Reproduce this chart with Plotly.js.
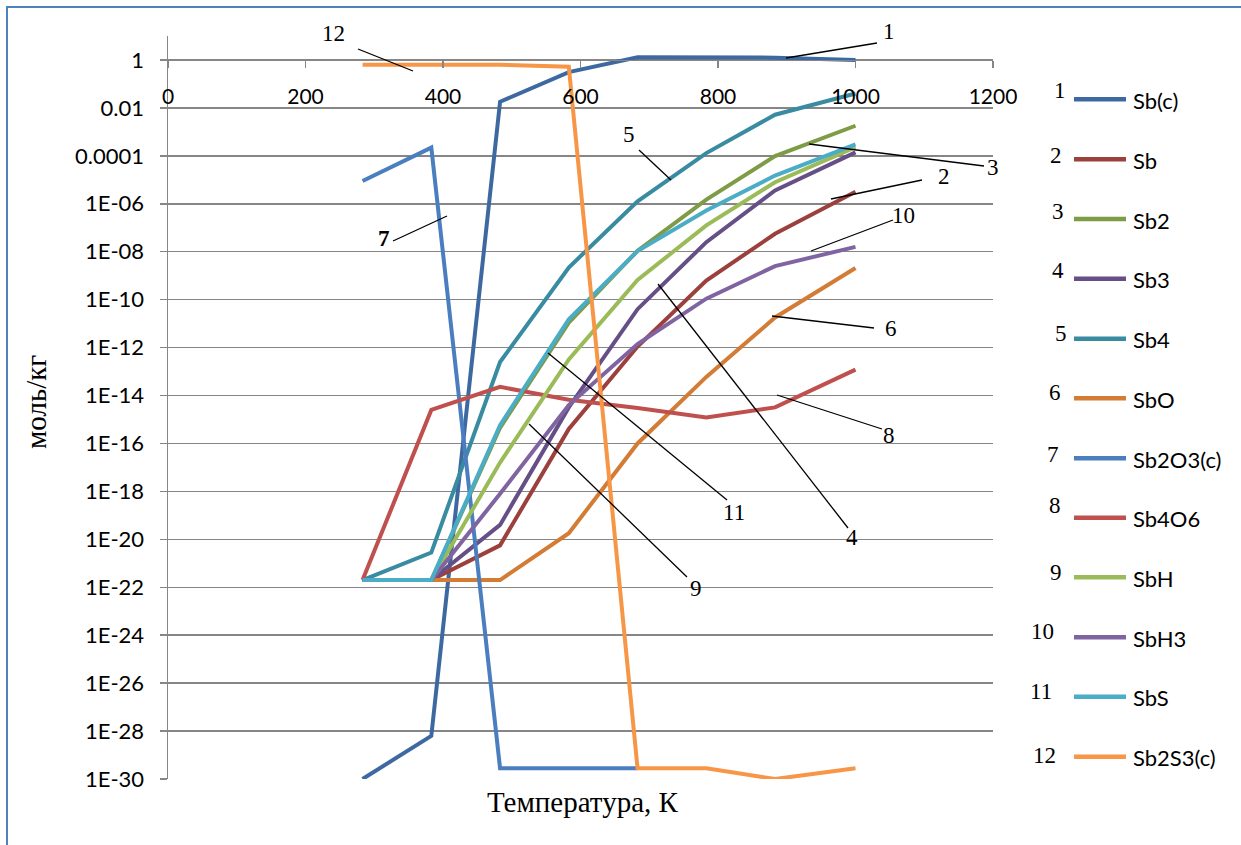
<!DOCTYPE html>
<html>
<head>
<meta charset="utf-8">
<script src="https://cdn.plot.ly/plotly-3.0.1.min.js"></script>
<style>html,body{margin:0;padding:0;background:#fff;}#chart{width:1241px;height:845px;}</style>
</head>
<body>
<div id="chart"></div>
<script>
// Temperatures, K
const temps = [283, 383, 483, 583, 683, 783, 883, 1000];
// Series values, mol/kg
const sbC    = [1e-30, 6.3e-29, 0.018, 0.31, 1.3, 1.3, 1.25, 1.0];
const sb     = [2e-22, 2e-22, 5.6e-21, 4e-16, 1.1e-12, 6.3e-10, 5.6e-8, 3.2e-6];
const sb2    = [2e-22, 2e-22, 4.5e-16, 1.1e-11, 1.1e-8, 1.5e-6, 9.8e-5, 1.8e-3];
const sb3    = [2e-22, 2e-22, 4e-20, 3.2e-15, 4e-11, 2.5e-8, 3.6e-6, 1.4e-4];
const sb4    = [2e-22, 2.8e-21, 2.5e-13, 2.2e-9, 1.26e-6, 1.3e-4, 5.2e-3, 0.04];
const sbO    = [2e-22, 2e-22, 2e-22, 1.8e-20, 1e-16, 6e-14, 1.8e-11, 2.1e-9];
const sb2O3c = [8.9e-6, 2.2e-4, 2.8e-30, 2.8e-30, 2.8e-30, null, null, null];
const sb4O6  = [2e-22, 2.5e-15, 2.3e-14, 6.6e-15, 3e-15, 1.2e-15, 3.2e-15, 1.2e-13];
const sbH    = [2e-22, 2e-22, 1.6e-17, 3.2e-13, 6.6e-10, 1.26e-7, 7.9e-6, 2.3e-4];
const sbH3   = [2e-22, 2e-22, 7.9e-19, 4e-15, 1.4e-12, 1.1e-10, 2.5e-9, 1.6e-8];
const sbS    = [2e-22, 2e-22, 5.8e-16, 1.5e-11, 1.07e-8, 5.2e-7, 1.5e-5, 3e-4];
const sb2S3c = [0.63, 0.63, 0.63, 0.52, 2.8e-30, 2.8e-30, 1e-30, 2.8e-30];

const seriesNames = ['Sb(c)', 'Sb', 'Sb2', 'Sb3', 'Sb4', 'SbO', 'Sb2O3(c)', 'Sb4O6', 'SbH', 'SbH3', 'SbS', 'Sb2S3(c)'];
const seriesValues = [sbC, sb, sb2, sb3, sb4, sbO, sb2O3c, sb4O6, sbH, sbH3, sbS, sb2S3c];
const seriesColors = ['#3E69A0', '#9C403D', '#7E9B45', '#654F86', '#388BA1', '#D27C35',
                      '#4A7EBE', '#C0504D', '#9BBB59', '#8064A2', '#4BACC6', '#F79646'];

const yTickVals = [1, 1e-2, 1e-4, 1e-6, 1e-8, 1e-10, 1e-12, 1e-14, 1e-16, 1e-18, 1e-20, 1e-22, 1e-24, 1e-26, 1e-28, 1e-30];
const yTickText = ['1', '0.01', '0.0001', '1E-06', '1E-08', '1E-10', '1E-12', '1E-14', '1E-16', '1E-18', '1E-20', '1E-22', '1E-24', '1E-26', '1E-28', '1E-30'];
const xTickVals = [0, 200, 400, 600, 800, 1000, 1200];

// plot-area geometry in pixels
const L = 168, R = 993, T = 36, B = 779, W = 1241, H = 845;
function px(x) { return (x - L) / (R - L); }
function py(y) { return (B - y) / (B - T); }

const traces = seriesNames.map((n, i) => ({
  type: 'scatter', mode: 'lines', name: n, x: temps, y: seriesValues[i],
  line: { color: seriesColors[i], width: 4 }, connectgaps: false
}));

const serif = 'Liberation Serif, Times New Roman, serif';
const sans = 'Lato, Carlito, Liberation Sans, sans-serif';

// curve labels: [text, label x, label y, line x0, y0, x1, y1]
const callouts = [
  ['12', 333, 33, 358, 49, 413, 71],
  ['1', 889, 32, 786, 58, 877, 43],
  ['5', 629, 134, 639, 150, 671, 180],
  ['3', 993, 168, 809, 144, 984, 166],
  ['2', 944, 177, 831, 199, 922, 180],
  ['10', 903, 215, 811, 251, 893, 220],
  ['7', 384, 238, 393, 241, 447, 216],
  ['6', 891, 328, 772, 316, 874, 328],
  ['8', 889, 435, 777, 395, 882, 429],
  ['11', 734, 512, 548, 353, 727, 500],
  ['9', 696, 588, 529, 424, 687, 577],
  ['4', 852, 537, 658, 284, 848, 528]
];

const annotations = [];
const shapes = [];
callouts.forEach(c => {
  annotations.push({ xref: 'paper', yref: 'paper', x: px(c[1]), y: py(c[2]), text: c[0] === '7' ? '<b>7</b>' : c[0],
    showarrow: false, xanchor: 'center', yanchor: 'middle', font: { family: serif, size: 23, color: '#000' } });
  shapes.push({ type: 'line', xref: 'paper', yref: 'paper', x0: px(c[3]), y0: py(c[4]), x1: px(c[5]), y1: py(c[6]),
    line: { color: '#000', width: 1.3 } });
});

// legend (drawn by hand to match the original spacing)
const legendLineY = [99.3, 159.3, 219, 278.7, 338.7, 398.3, 458.3, 517.7, 577.3, 637.3, 696.7, 756.7];
const legendNumX = [1060, 1056, 1058, 1058, 1061, 1055, 1053, 1055, 1056, 1042, 1041, 1044];
const legendNumY = [90, 155, 212, 270, 333, 392, 454, 506, 572, 631, 691, 755];
seriesNames.forEach((n, i) => {
  const y = legendLineY[i];
  shapes.push({ type: 'line', xref: 'paper', yref: 'paper', x0: px(1074), x1: px(1126), y0: py(y), y1: py(y),
    line: { color: seriesColors[i], width: 4.5 } });
  annotations.push({ xref: 'paper', yref: 'paper', x: px(1131), y: py(y + 1), text: n, showarrow: false,
    xanchor: 'left', yanchor: 'middle', font: { family: sans, size: 22, color: '#000' } });
  annotations.push({ xref: 'paper', yref: 'paper', x: px(legendNumX[i]), y: py(legendNumY[i]), text: String(i + 1),
    showarrow: false, xanchor: 'center', yanchor: 'middle', font: { family: serif, size: 23, color: '#000' } });
});

// axis titles
annotations.push({ xref: 'paper', yref: 'paper', x: px(583), y: py(802), text: 'Температура, К', showarrow: false,
  xanchor: 'center', yanchor: 'middle', font: { family: serif, size: 29, color: '#000' } });
annotations.push({ xref: 'paper', yref: 'paper', x: px(36), y: py(402), text: 'моль/кг', showarrow: false, textangle: -90,
  xanchor: 'center', yanchor: 'middle', font: { family: serif, size: 29, color: '#000' } });

// outer frame
shapes.push({ type: 'rect', xref: 'paper', yref: 'paper', x0: px(7), y0: py(7), x1: px(W + 10), y1: py(H + 10),
  line: { color: '#4F81BD', width: 2 }, fillcolor: 'rgba(0,0,0,0)', layer: 'above' });

const layout = {
  width: W, height: H,
  margin: { l: L, r: W - R, t: T, b: H - B, pad: 0 },
  paper_bgcolor: '#fff', plot_bgcolor: '#fff',
  showlegend: false,
  xaxis: {
    range: [0, 1200], tickvals: xTickVals, ticktext: xTickVals.map(String),
    anchor: 'free', position: 30 / 31, side: 'bottom',
    showline: true, linecolor: '#868686', linewidth: 1.5,
    ticks: 'outside', ticklen: 7, tickcolor: '#868686', tickwidth: 1.5,
    showgrid: false, zeroline: false, ticklabelstandoff: 10,
    tickfont: { family: sans, size: 21, color: '#000' }
  },
  yaxis: {
    type: 'log', range: [-30, 1], tickvals: yTickVals, ticktext: yTickText,
    showline: true, linecolor: '#868686', linewidth: 1.5,
    ticks: 'outside', ticklen: 7, tickcolor: '#868686', tickwidth: 1.5,
    showgrid: true, gridcolor: '#868686', gridwidth: 1.5, zeroline: false,
    ticklabelstandoff: 11,
    tickfont: { family: sans, size: 22, color: '#000' }
  },
  annotations: annotations,
  shapes: shapes
};

Plotly.newPlot('chart', traces, layout, { displayModeBar: false, staticPlot: true });
</script>
</body>
</html>
